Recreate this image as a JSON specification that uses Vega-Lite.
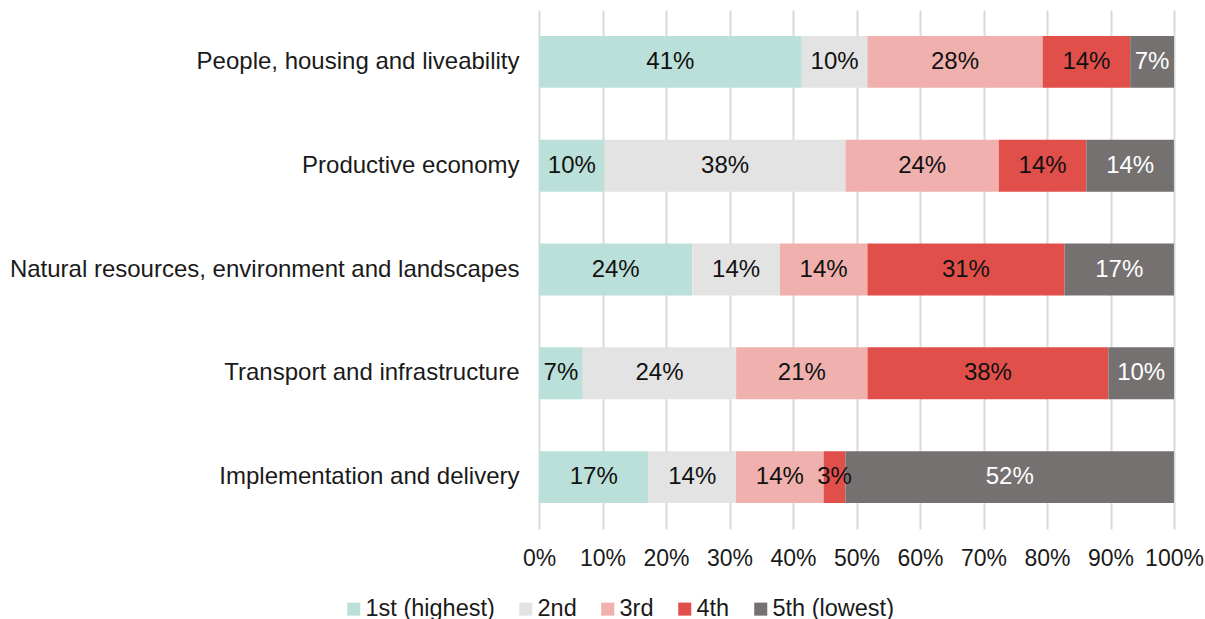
{
  "$schema": "https://vega.github.io/schema/vega-lite/v6.json",
  "width": 635,
  "height": 519,
  "autosize": {"type": "none"},
  "padding": {"left": 539, "top": 10, "right": 31, "bottom": 90},
  "background": "white",
  "config": {
    "view": {"stroke": null},
    "font": "Liberation Sans",
    "axis": {"labelFont": "Liberation Sans", "labelFontSize": 23, "labelColor": "#1A1A1A"},
    "legend": {"labelFont": "Liberation Sans", "labelFontSize": 23.5, "labelColor": "#1A1A1A"}
  },
  "data": {
    "values": [
      {"theme": "People, housing and liveability", "rank": 1, "series": "1st (highest)", "pct": 0.4138},
      {"theme": "People, housing and liveability", "rank": 2, "series": "2nd", "pct": 0.1034},
      {"theme": "People, housing and liveability", "rank": 3, "series": "3rd", "pct": 0.2759},
      {"theme": "People, housing and liveability", "rank": 4, "series": "4th", "pct": 0.1379},
      {"theme": "People, housing and liveability", "rank": 5, "series": "5th (lowest)", "pct": 0.0690},
      {"theme": "Productive economy", "rank": 1, "series": "1st (highest)", "pct": 0.1034},
      {"theme": "Productive economy", "rank": 2, "series": "2nd", "pct": 0.3793},
      {"theme": "Productive economy", "rank": 3, "series": "3rd", "pct": 0.2414},
      {"theme": "Productive economy", "rank": 4, "series": "4th", "pct": 0.1379},
      {"theme": "Productive economy", "rank": 5, "series": "5th (lowest)", "pct": 0.1379},
      {"theme": "Natural resources, environment and landscapes", "rank": 1, "series": "1st (highest)", "pct": 0.2414},
      {"theme": "Natural resources, environment and landscapes", "rank": 2, "series": "2nd", "pct": 0.1379},
      {"theme": "Natural resources, environment and landscapes", "rank": 3, "series": "3rd", "pct": 0.1379},
      {"theme": "Natural resources, environment and landscapes", "rank": 4, "series": "4th", "pct": 0.3103},
      {"theme": "Natural resources, environment and landscapes", "rank": 5, "series": "5th (lowest)", "pct": 0.1724},
      {"theme": "Transport and infrastructure", "rank": 1, "series": "1st (highest)", "pct": 0.0690},
      {"theme": "Transport and infrastructure", "rank": 2, "series": "2nd", "pct": 0.2414},
      {"theme": "Transport and infrastructure", "rank": 3, "series": "3rd", "pct": 0.2069},
      {"theme": "Transport and infrastructure", "rank": 4, "series": "4th", "pct": 0.3793},
      {"theme": "Transport and infrastructure", "rank": 5, "series": "5th (lowest)", "pct": 0.1034},
      {"theme": "Implementation and delivery", "rank": 1, "series": "1st (highest)", "pct": 0.1724},
      {"theme": "Implementation and delivery", "rank": 2, "series": "2nd", "pct": 0.1379},
      {"theme": "Implementation and delivery", "rank": 3, "series": "3rd", "pct": 0.1379},
      {"theme": "Implementation and delivery", "rank": 4, "series": "4th", "pct": 0.0345},
      {"theme": "Implementation and delivery", "rank": 5, "series": "5th (lowest)", "pct": 0.5172}
    ]
  },
  "encoding": {
    "y": {
      "field": "theme",
      "type": "nominal",
      "sort": null,
      "title": null,
      "scale": {"paddingInner": 0.5, "paddingOuter": 0.25},
      "axis": {"ticks": false, "domain": false, "labelPadding": 20, "labelLimit": 600, "labelFontSize": 24}
    }
  },
  "layer": [
    {
      "mark": {"type": "bar"},
      "encoding": {
        "x": {
          "field": "pct",
          "type": "quantitative",
          "stack": "zero",
          "title": null,
          "scale": {"domain": [0, 1], "nice": false},
          "axis": {
            "format": ".0%",
            "values": [0, 0.1, 0.2, 0.3, 0.4, 0.5, 0.6, 0.7, 0.8, 0.9, 1],
            "grid": true,
            "gridColor": "#D9D9D9",
            "gridWidth": 2,
            "domain": false,
            "ticks": false,
            "labelPadding": 18,
            "labelFlush": false,
            "labelOverlap": false
          }
        },
        "order": {"field": "rank", "type": "quantitative"},
        "color": {
          "field": "series",
          "type": "nominal",
          "title": null,
          "scale": {
            "domain": ["1st (highest)", "2nd", "3rd", "4th", "5th (lowest)"],
            "range": ["#BAE0D9", "#E3E3E3", "#F0B0AE", "#E14F4A", "#757171"]
          },
          "legend": {
            "orient": "none",
            "direction": "horizontal",
            "legendX": -197,
            "legendY": 587,
            "symbolType": "square",
            "symbolSize": 170,
            "symbolStrokeWidth": 0,
            "labelOffset": 0,
            "columnPadding": 19
          }
        }
      }
    },
    {
      "mark": {"type": "text", "fontSize": 24, "font": "Liberation Sans", "baseline": "middle", "align": "center"},
      "encoding": {
        "x": {"field": "pct", "type": "quantitative", "stack": "zero", "bandPosition": 0.5},
        "order": {"field": "rank", "type": "quantitative"},
        "detail": {"field": "series", "type": "nominal"},
        "text": {"field": "pct", "type": "quantitative", "format": ".0%"},
        "color": {
          "condition": {"test": "datum.rank === 5", "value": "#FFFFFF"},
          "value": "#111111"
        }
      }
    }
  ]
}
